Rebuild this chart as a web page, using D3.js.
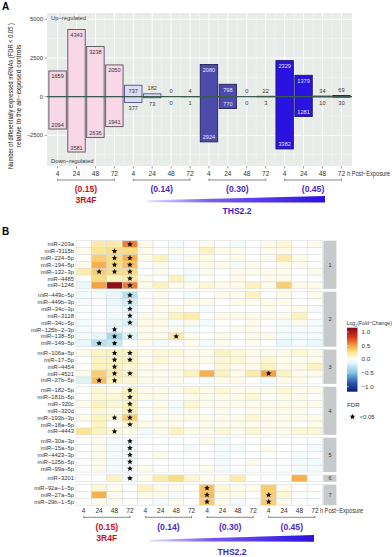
<!DOCTYPE html>
<html><head><meta charset="utf-8">
<script src="https://cdn.jsdelivr.net/npm/d3@7"></script>
<style>
html,body{margin:0;padding:0;background:#fff;}
svg{display:block;font-family:"Liberation Sans Narrow","Liberation Sans",Arial,sans-serif;font-stretch:condensed;}
</style></head><body>
<svg id="c" width="392" height="557"></svg>
<script>
// ---------------- DATA ----------------
const timepoints = ["4","24","48","72"];
const doses = ["(0.15)","(0.14)","(0.30)","(0.45)"];
const products = ["3R4F","THS2.2"];
const upRegulated   = [1659,4343,3238,2050,737,182,0,4,2080,798,0,22,2329,1379,34,69];
const downRegulated = [2094,3581,2636,1941,377,73,0,1,2924,770,0,3,3382,1281,10,30];
const yTicksA = [-2500,0,2500,5000];

const mirnas = ["miR−203a","miR−3115b","miR−224−5p","miR−194−5p","miR−132−3p","miR−4485","miR−1246",
  "miR−449c−5p","miR−449b−3p","miR−34c−3p","miR−3128","miR−34c−5p","miR−125b−2−3p","miR−138−5p","miR−149−5p",
  "miR−106a−5p","miR−17−5p","miR−4454","miR−4521","miR−27b−5p",
  "miR−182−5p","miR−181b−5p","miR−320c","miR−320d","miR−193b−3p","miR−18a−5p","miR−4443",
  "miR−30a−3p","miR−15a−5p","miR−4423−3p","miR−125b−5p","miR−99a−5p",
  "miR−3201",
  "miR−92a−1−5p","miR−27a−5p","miR−29b−1−5p"];
const clusters = [1,1,1,1,1,1,1, 2,2,2,2,2,2,2,2, 3,3,3,3,3, 4,4,4,4,4,4,4, 5,5,5,5,5, 6, 7,7,7];
const log2fc = [
  [0,0.2,0.2,0.6, 0.05,0,-0.05,0, 0.05,0,-0.05,0, 0.05,0.1,0,0.05],
  [0.05,0.25,0.3,0.3, 0.05,0,0.05,0, 0.15,0.05,0.05,0, 0.05,0.05,0,0],
  [0,0.35,0.3,0.45, 0.05,0.15,-0.05,0.05, 0.05,0,0.05,0, 0.05,0.2,0.05,0],
  [0.05,0.45,0.3,0.4, 0,0.05,0,0, 0.05,0.05,-0.05,0.05, 0,0.05,0.05,0],
  [0.2,0.35,0.3,0.3, 0,0.05,0,-0.05, 0.05,0,0.05,0.05, 0.05,0.05,0,0.05],
  [0,0.3,0.15,0.2, 0.05,0,0.15,-0.05, 0,0,0.05,0, 0.05,0.05,0,0],
  [-0.1,0.5,1.1,0.6, 0.05,0.15,0.05,0.05, 0.1,0.05,0.05,0.15, 0.05,0.35,0.05,0.05],
  [-0.05,-0.05,-0.1,-0.3, 0,0.05,0,-0.05, 0,0.05,0.05,0.15, 0,0.05,0,0.05],
  [-0.05,0,-0.1,-0.2, 0,0.05,0,0.05, 0.05,0,0.05,0.05, 0.05,0.05,0,0],
  [0,0,-0.05,-0.1, 0,0.05,0.05,0, -0.05,0,0,0, 0.05,0,0.05,-0.05],
  [0,0,-0.05,-0.05, 0.05,0.05,0.15,0.2, 0,0.05,0.05,0.05, 0.05,0.05,0.15,0],
  [-0.05,0,-0.1,-0.15, 0.05,0.05,-0.05,0.05, -0.05,0,0,0.05, 0,-0.05,0.05,-0.05],
  [-0.05,0,-0.1,-0.05, 0.05,0.05,0.05,-0.05, 0,0,0.05,0.05, 0,-0.05,-0.05,-0.05],
  [-0.05,-0.1,-0.35,-0.15, 0.05,0.05,0.2,0.05, 0,0.05,0,0.05, 0.05,-0.05,-0.05,-0.05],
  [-0.1,-0.3,-0.25,0, 0.05,-0.05,0,0.05, -0.05,0.05,0,0.05, 0,-0.1,-0.05,-0.1],
  [0.05,0.15,0.15,0.15, 0.05,0.1,0.1,0.05, 0.05,0.15,0.1,0.05, 0.05,0.05,0.1,0.05],
  [0,0.15,0.15,0.15, 0.05,0.1,0.05,0.05, 0.05,0.1,0.1,0.05, 0.1,0.05,0.05,0.05],
  [0,0.15,0.15,0.1, 0.05,0.05,0.05,0.05, 0,0.1,0.05,0.05, 0.15,0.05,0.05,0.15],
  [0.05,0.35,0.2,0.15, 0.05,0.05,0.05,0.15, 0.45,0.15,0.05,0.2, 0.5,0.15,0.05,0.05],
  [-0.15,0.4,0.15,0.1, 0.05,0.05,0.05,0, -0.05,0.05,0.05,0, -0.05,0.05,0.05,0],
  [0,0.1,0.05,0.15, 0.05,0.05,0.05,0.1, 0.05,0.1,0.05,0.05, 0.05,0.1,0.05,0.05],
  [0,0.1,0.1,0.15, 0.05,0.05,0,0.05, 0.05,0.05,0.05,0.1, 0,0.05,0.05,0],
  [0.05,0.15,0.1,0.15, 0,0.05,-0.05,0.1, 0.05,0.05,0.05,0.05, 0.05,0.05,0.05,0.05],
  [0,0.1,0.05,0.15, 0,0.05,-0.05,0.05, 0,0.05,0,0.05, 0.05,0.05,0.05,0],
  [0.05,0.15,0.1,0.35, 0,0.05,0.05,0.05, 0.05,0.05,0.05,0.1, 0.05,0.05,0.05,0.05],
  [0,0.15,0,0.1, 0.05,0.05,0.05,0, 0.05,0.05,0.05,0.05, 0.05,0.05,0,0.05],
  [0.25,0.15,0.1,0.05, -0.05,0.05,0.15,0.05, 0.05,0.1,0.05,0.1, 0.05,0.05,0.1,0.1],
  [0,0.05,-0.05,-0.05, 0,0,0,0, 0.05,-0.05,0,0, 0,0,0,0],
  [0,0.05,-0.05,-0.05, 0,0,0,-0.05, 0,-0.05,-0.05,0, 0.05,0,0,-0.05],
  [0,0.05,-0.05,-0.05, 0,0.05,0,0, 0,-0.05,0,0, 0,0,-0.05,0],
  [0,0.05,-0.05,-0.05, 0,0,0,0, 0,-0.05,0,0.05, 0,0,-0.05,-0.05],
  [0,0.05,-0.05,-0.05, 0.05,0,0,0, 0.05,-0.05,0,0, 0,0,-0.05,-0.05],
  [0,0,0.15,-0.05, 0.05,0.2,0.3,0.1, 0.05,0.05,0.2,0, 0,0,0.45,0],
  [0,0.1,0.05,0, 0.15,0.05,0.05,0, 0.4,0.1,0.05,0.05, 0.35,0.05,0,0],
  [0,0.45,0.05,0, 0.05,0.05,-0.05,0, 0.4,0.05,0.05,0, 0.35,0.1,0,0],
  [0,0.05,0.05,0, 0,-0.05,0.05,0, 0.35,0.05,-0.05,0, 0.35,0.05,0,0]
];
// column indices (0-based) with FDR < 0.05, per row
const significant = [
  [3],[2],[2,3],[2,3],[1,2,3],[3],[3],
  [3],[3],[3],[3],[3],[2],[2,3,6],[1,2],
  [2,3],[2,3],[2],[2,3,12],[1,2],
  [3],[3],[3],[3],[2,3],[3],[2],
  [3],[3],[3],[3],[3],
  [3],
  [8],[8,12],[8,12]
];
const legendTicks = [-1,-0.5,0,0.5,1];

// ---------------- DRAW ----------------
const svg = d3.select("#c");
const groupFill   = ["#f8d7e6","#dcdcf4","#4c4baa","#2a12e0"];
const groupStroke = ["#55505a","#4d5288","#23235c","#181868"];
const labelInk    = ["#333","#333","#e8e8ff","#e8e8ff"];
const groupText   = ["#c8101c","#4a28c8","#4a28c8","#4a28c8"];
const cats = d3.range(16);

svg.append("text").attr("x",2).attr("y",10).attr("font-size",10).attr("font-weight","bold").text("A");
svg.append("text").attr("x",2).attr("y",235).attr("font-size",10).attr("font-weight","bold").text("B");

// ===== Panel A =====
const L=47,R=352,T=13,B=166;
const xA = d3.scaleBand().domain(cats).range([L,R]).paddingInner(0.08).paddingOuter(0.1);
const yA = d3.scaleLinear().domain([-2500,5000]).range([135.3,19.3]);
const gA = svg.append("g").attr("id","gA");
gA.append("rect").attr("x",L).attr("y",T).attr("width",R-L).attr("height",B-T).attr("fill","#e8ece9");
gA.selectAll(".ymin").data([-3750,-1250,1250,3750]).join("line")
  .attr("x1",L).attr("x2",R).attr("y1",d=>yA(d)).attr("y2",d=>yA(d)).attr("stroke","#f7f9f7").attr("stroke-width",0.5);
gA.selectAll(".ymaj").data(yTicksA).join("line")
  .attr("x1",L).attr("x2",R).attr("y1",d=>yA(d)).attr("y2",d=>yA(d)).attr("stroke","#fff").attr("stroke-width",0.9);
gA.selectAll(".xmaj").data(cats).join("line")
  .attr("x1",d=>xA(d)+xA.bandwidth()/2).attr("x2",d=>xA(d)+xA.bandwidth()/2)
  .attr("y1",T).attr("y2",B).attr("stroke","#fff").attr("stroke-width",0.9);
gA.selectAll(".xmin").data(d3.range(15)).join("line")
  .attr("x1",d=>xA(d)+xA.step()/2+xA.bandwidth()/2).attr("x2",d=>xA(d)+xA.step()/2+xA.bandwidth()/2)
  .attr("y1",T).attr("y2",B).attr("stroke","#f7f9f7").attr("stroke-width",0.5);

gA.append("text").attr("x",L+4).attr("y",T+7).attr("font-size",5.8).attr("fill","#333").text("Up−regulated");
gA.append("text").attr("x",L+4).attr("y",B-3).attr("font-size",5.8).attr("fill","#333").text("Down−regulated");

const grp = i => Math.floor(i/4);
const y0 = yA(0);
gA.selectAll(".up").data(cats.filter(i=>upRegulated[i]>0)).join("rect")
  .attr("x",i=>xA(i)).attr("width",xA.bandwidth())
  .attr("y",i=>yA(upRegulated[i])).attr("height",i=>y0-yA(upRegulated[i]))
  .attr("fill",i=>groupFill[grp(i)]).attr("stroke",i=>groupStroke[grp(i)]).attr("stroke-width",0.9);
gA.selectAll(".dn").data(cats.filter(i=>downRegulated[i]>0)).join("rect")
  .attr("x",i=>xA(i)).attr("width",xA.bandwidth())
  .attr("y",y0).attr("height",i=>yA(-downRegulated[i])-y0)
  .attr("fill",i=>groupFill[grp(i)]).attr("stroke",i=>groupStroke[grp(i)]).attr("stroke-width",0.9);
gA.append("line").attr("x1",L).attr("x2",R).attr("y1",y0).attr("y2",y0).attr("stroke","#3b5a50").attr("stroke-width",1.2);
cats.forEach(i=>{
  const cx = xA(i)+xA.bandwidth()/2;
  const hu = y0-yA(upRegulated[i]);
  const hd = yA(-downRegulated[i])-y0;
  const inU = hu>10, inD = hd>10;
  gA.append("text").attr("x",cx).attr("text-anchor","middle").attr("font-size",5.6)
    .attr("y", inU ? yA(upRegulated[i])+7.5 : Math.min(yA(upRegulated[i]),y0)-3.5)
    .attr("fill", inU ? labelInk[grp(i)] : "#333").text(upRegulated[i]);
  gA.append("text").attr("x",cx).attr("text-anchor","middle").attr("font-size",5.6)
    .attr("y", inD ? yA(-downRegulated[i])-2.5 : yA(-downRegulated[i])+8)
    .attr("fill", inD ? labelInk[grp(i)] : "#333").text(downRegulated[i]);
});
gA.selectAll(".yt").data(yTicksA).join("text")
  .attr("x",43).attr("y",d=>yA(d)+2).attr("text-anchor","end").attr("font-size",5.8).attr("fill","#333")
  .text(d=>d<0?"−"+Math.abs(d):d);
gA.selectAll(".ytk").data(yTicksA).join("line")
  .attr("x1",44.5).attr("x2",L).attr("y1",d=>yA(d)).attr("y2",d=>yA(d)).attr("stroke","#666").attr("stroke-width",0.6);
const yTitle = gA.append("text").attr("transform","translate(13,96) rotate(-90)").attr("text-anchor","middle").attr("font-size",6.6).attr("fill","#222");
yTitle.append("tspan").attr("x",0).attr("dy",0).attr("textLength",146).attr("lengthAdjust","spacingAndGlyphs").text("Number of differentially expressed mRNAs (FDR < 0.05 )");
yTitle.append("tspan").attr("x",0).attr("dy",8).text("relative to the air−exposed controls");

gA.selectAll(".xt").data(cats).join("line")
  .attr("x1",i=>xA(i)+xA.bandwidth()/2).attr("x2",i=>xA(i)+xA.bandwidth()/2)
  .attr("y1",B).attr("y2",B+2.5).attr("stroke","#666").attr("stroke-width",0.6);
gA.selectAll(".xl").data(cats).join("text")
  .attr("x",i=>xA(i)+xA.bandwidth()/2).attr("y",176).attr("text-anchor","middle").attr("font-size",6.6).attr("fill","#333")
  .text(i=>timepoints[i%4]);
gA.append("text").attr("transform",`translate(${xA(15)+xA.bandwidth()/2+5.5},176) scale(0.86,1)`)
  .attr("font-size",6.6).attr("fill","#333").text("h Post−Exposure");

function groupAnnot(g, xs, yBr, yDose, yProd, wedge, yThs, thsX){
  d3.range(4).forEach(k=>{
    const a = xs(k*4), b = xs(k*4+3);
    g.append("line").attr("x1",a).attr("x2",b).attr("y1",yBr).attr("y2",yBr).attr("stroke","#555").attr("stroke-width",0.7);
    [a,b].forEach(x=>g.append("line").attr("x1",x).attr("x2",x).attr("y1",yBr-1.5).attr("y2",yBr+0.5).attr("stroke","#555").attr("stroke-width",0.7));
    g.append("text").attr("x",(a+b)/2).attr("y",yDose).attr("text-anchor","middle").attr("font-size",8.6)
      .attr("font-weight","bold").attr("fill",groupText[k]).text(doses[k]);
  });
  g.append("text").attr("x",(xs(0)+xs(3))/2).attr("y",yProd).attr("text-anchor","middle").attr("font-size",8.6)
    .attr("font-weight","bold").attr("fill",groupText[0]).text(products[0]);
  const [wx0,wx1,wyTop,wyBot,wyLeft] = wedge;
  g.append("path").attr("d",`M${wx0},${wyLeft}L${wx1},${wyTop}L${wx1},${wyBot}L${wx0},${wyBot-0.3}Z`).attr("fill",`url(#${g.attr("id")}grad)`);
  g.append("text").attr("x",thsX).attr("y",yThs).attr("text-anchor","middle").attr("font-size",8.6)
    .attr("font-weight","bold").attr("fill","#3a1ed0").text(products[1]);
}
const defs = svg.append("defs");
["gA","gB"].forEach(id=>{
  const lg = defs.append("linearGradient").attr("id",id+"grad").attr("x1","0%").attr("x2","100%");
  lg.append("stop").attr("offset","0%").attr("stop-color","#e6e2fb");
  lg.append("stop").attr("offset","35%").attr("stop-color","#7a5ef0");
  lg.append("stop").attr("offset","100%").attr("stop-color","#2a0fe0");
});
groupAnnot(gA, i=>xA(i)+xA.bandwidth()/2, 180, 191.5, 202.5, [148,325,196,202.5,200.3], 214, 237);

// ===== Panel B =====
const gB = svg.append("g").attr("id","gB");
const xB = d3.scaleBand().domain(cats).range([76,322.6]);
const gapFrac = 2.8/6.88;
const nSlots = mirnas.length + (d3.max(clusters)-1)*gapFrac;
const yB = d3.scaleLinear().domain([0,nSlots]).range([240.7, 240.7 + nSlots*6.88]);
const slot = i => i + (clusters[i]-1)*gapFrac;
const color = d3.scaleLinear()
  .domain([-1.2,-0.85,-0.5,-0.2,0,0.15,0.3,0.5,0.8,1.2])
  .range(["#0a1a6a","#2a58b0","#7cc3e0","#d4eef6","#ffffff","#fdf3bf","#fbdc80","#f6a040","#da3a1e","#780012"])
  .clamp(true);
const cells = [];
log2fc.forEach((row,r)=>row.forEach((v,c)=>cells.push({r,c,v})));
gB.selectAll(".cell").data(cells).join("rect")
  .attr("x",d=>xB(d.c)).attr("y",d=>yB(slot(d.r))).attr("width",xB.bandwidth()).attr("height",yB(1)-yB(0))
  .attr("fill",d=>color(d.v)).attr("stroke","#d3d9db").attr("stroke-width",0.5);
const sym = d3.symbol().type(d3.symbolStar).size(11);
const stars = [];
significant.forEach((cols,r)=>cols.forEach(c=>stars.push({r,c})));
gB.selectAll(".star").data(stars).join("path")
  .attr("transform",d=>`translate(${xB(d.c)+xB.bandwidth()/2},${yB(slot(d.r)+0.5)})`)
  .attr("d",sym).attr("fill","#111");
gB.selectAll(".dot").data(stars).join("circle")
  .attr("cx",d=>xB(d.c)+xB.bandwidth()/2).attr("cy",d=>yB(slot(d.r)+0.5)).attr("r",1.5).attr("fill","#111");
gB.selectAll(".rl").data(mirnas).join("text")
  .attr("x",74).attr("y",(d,i)=>yB(slot(i)+0.5)+2).attr("text-anchor","end").attr("font-size",5.8).attr("fill","#333").text(d=>d);
const clusterIds = [...new Set(clusters)];
clusterIds.forEach(k=>{
  const idx = clusters.map((c,i)=>c===k?i:-1).filter(i=>i>=0);
  const y1 = yB(slot(idx[0])), y2 = yB(slot(idx[idx.length-1])+1);
  gB.append("rect").attr("x",323.4).attr("y",y1).attr("width",13).attr("height",y2-y1).attr("fill","#c6cacb");
  gB.append("text").attr("x",330).attr("y",(y1+y2)/2+2).attr("text-anchor","middle").attr("font-size",5.5).attr("fill","#333").text(k);
});
gB.selectAll(".xl").data(cats).join("text")
  .attr("x",i=>xB(i)+xB.bandwidth()/2).attr("y",513).attr("text-anchor","middle").attr("font-size",6.6).attr("fill","#333")
  .text(i=>timepoints[i%4]);
gB.append("text").attr("transform",`translate(${xB(15)+xB.bandwidth()/2+5},513) scale(0.86,1)`)
  .attr("font-size",6.6).attr("fill","#333").text("h Post−Exposure");
groupAnnot(gB, i=>xB(i)+xB.bandwidth()/2, 517.3, 530, 540.5, [150,314,535,541.7,539.7], 555, 232);

// legend colour bar
const yL = d3.scaleLinear().domain([-1,1]).range([386.7,332]);
const lgc = defs.append("linearGradient").attr("id","cbar").attr("x1","0").attr("x2","0").attr("y1","1").attr("y2","0");
const lo = yL.invert(391.7), hi = yL.invert(327.7);
d3.range(0,1.0001,0.05).forEach(t=>{
  lgc.append("stop").attr("offset",(t*100)+"%").attr("stop-color",color(lo+(hi-lo)*t));
});
svg.append("rect").attr("x",347).attr("y",327.7).attr("width",10.5).attr("height",64).attr("fill","url(#cbar)");
svg.selectAll(".lt").data(legendTicks).join("text")
  .attr("x",361.5).attr("y",d=>yL(d)+2).attr("font-size",6.2).attr("fill","#333")
  .text(d=>d<0?"−"+Math.abs(d).toFixed(1):d.toFixed(1));
svg.selectAll(".ltk").data(legendTicks).join("line")
  .attr("x1",347).attr("x2",349).attr("y1",d=>yL(d)).attr("y2",d=>yL(d)).attr("stroke","#fff").attr("stroke-width",0.5);
const lt = svg.append("text").attr("transform","translate(346.5,325) scale(0.84,1)").attr("font-size",6.2).attr("fill","#333");
lt.append("tspan").text("Log");
lt.append("tspan").attr("font-size",4.2).attr("dy",1.5).text("2");
lt.append("tspan").attr("dy",-1.5).text("(Fold−Change)");
svg.append("text").attr("x",347).attr("y",407).attr("font-size",6.2).attr("fill","#333").text("FDR");
svg.append("path").attr("transform","translate(352.5,416.7)").attr("d",sym).attr("fill","#111");
svg.append("circle").attr("cx",352.5).attr("cy",416.7).attr("r",1.5).attr("fill","#111");
svg.append("text").attr("x",359.5).attr("y",418.8).attr("font-size",6).attr("fill","#333").text("<0.05");
</script>
</body></html>
